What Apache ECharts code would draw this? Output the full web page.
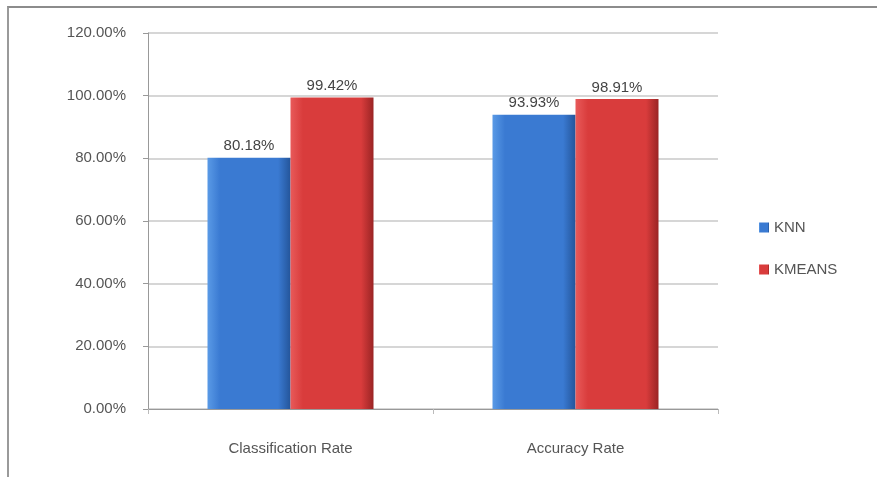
<!DOCTYPE html>
<html>
<head>
<meta charset="utf-8">
<script src="https://cdn.jsdelivr.net/npm/echarts@6/dist/echarts.min.js"></script>
<style>
  html, body { margin: 0; padding: 0; background: #fff; }
  #frame { position: absolute; left: 0; top: 0; width: 877px; height: 477px; }
  #chart { width: 877px; height: 477px; }
  #edge { position: absolute; left: 7px; top: 6px; right: 0; bottom: 0;
          border-left: 2px solid #9a9a9a; border-top: 2px solid #8c8c8c; pointer-events: none; }
</style>
</head>
<body>
<div id="frame">
  <div id="chart"></div>
  <div id="edge"></div>
</div>
<script>
  // chart data
  var categories = ["Classification Rate", "Accuracy Rate"];
  var knn = [80.18, 93.93];
  var kmeans = [99.42, 98.91];
  var seriesNames = ["KNN", "KMEANS"];

  var chart = echarts.init(document.getElementById("chart"));

  function barGradient(light, mid, dark) {
    return {
      type: "linear", x: 0, y: 0, x2: 1, y2: 0,
      colorStops: [
        { offset: 0, color: light },
        { offset: 0.15, color: mid },
        { offset: 0.85, color: mid },
        { offset: 1, color: dark }
      ]
    };
  }

  var labelStyle = {
    show: true,
    position: "top",
    distance: 4,
    color: "#444",
    fontSize: 15,
    fontFamily: "Liberation Sans",
    formatter: function (p) { return p.value.toFixed(2) + "%"; }
  };

  var option = {
    animation: false,
    grid: { left: 148, right: 159, top: 33, bottom: 68 },
    legend: {
      orient: "vertical",
      left: 754,
      top: 215,
      itemWidth: 10,
      itemHeight: 10,
      itemGap: 27,
      icon: "rect",
      textStyle: { color: "#555", fontSize: 15, fontFamily: "Liberation Sans" },
      data: seriesNames
    },
    xAxis: {
      type: "category",
      data: categories,
      axisLine: { lineStyle: { color: "#999" } },
      axisTick: { show: true, length: 5, lineStyle: { color: "#bbb" } },
      axisLabel: { color: "#555", fontSize: 15, margin: 32, fontFamily: "Liberation Sans" }
    },
    yAxis: {
      type: "value",
      min: 0,
      max: 120,
      interval: 20,
      axisLine: { show: true, lineStyle: { color: "#999" } },
      axisTick: { show: true, length: 5, lineStyle: { color: "#999" } },
      splitLine: { lineStyle: { color: "#c8c8c8", width: 1.5 } },
      axisLabel: {
        color: "#555",
        fontSize: 15,
        margin: 22,
        fontFamily: "Liberation Sans",
        formatter: function (v) { return v.toFixed(2) + "%"; }
      }
    },
    series: [
      {
        name: seriesNames[0],
        type: "bar",
        data: knn,
        barWidth: 83,
        barGap: "0%",
        itemStyle: { color: barGradient("#5a9ae6", "#3a7ad2", "#24559a") },
        label: labelStyle
      },
      {
        name: seriesNames[1],
        type: "bar",
        data: kmeans,
        barWidth: 83,
        itemStyle: { color: barGradient("#e85a5a", "#d93c3c", "#9a2424") },
        label: labelStyle
      }
    ]
  };

  chart.setOption(option);
</script>
</body>
</html>
